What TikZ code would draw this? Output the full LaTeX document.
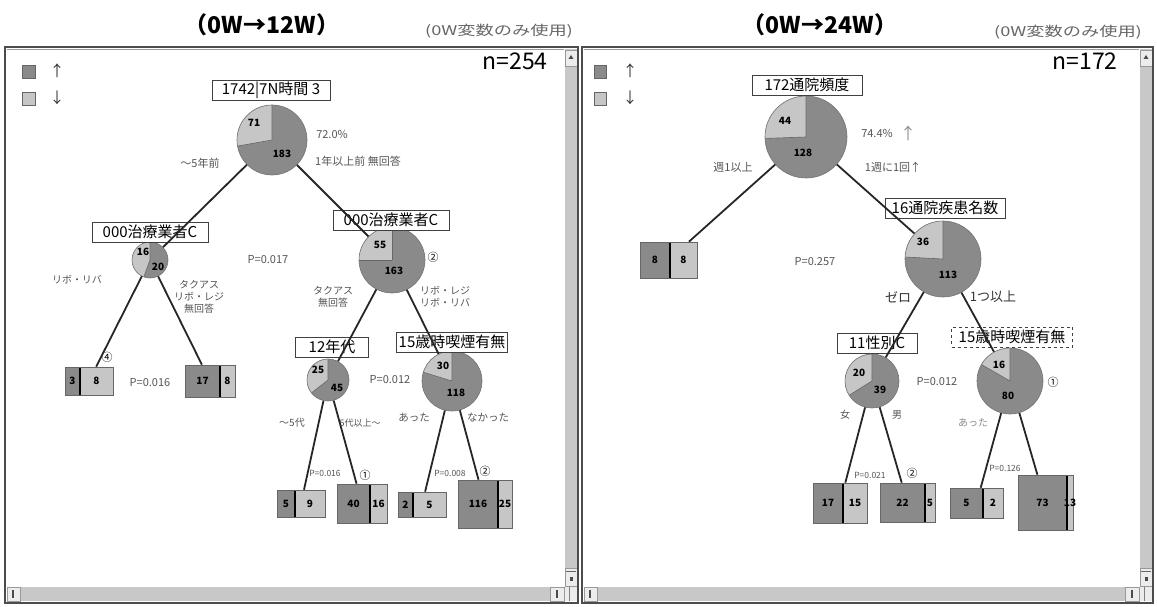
\documentclass[tikz,border=0pt]{standalone}
\usepackage{fontspec}
\setmainfont{Noto Sans CJK JP}
\newfontfamily\jp{Noto Sans CJK JP}
\definecolor{pdark}{RGB}{138,138,138}
\definecolor{plight}{RGB}{198,198,198}
\definecolor{tgray}{RGB}{85,85,85}
\definecolor{sbar}{RGB}{200,200,200}
\definecolor{sbtn}{RGB}{236,236,236}
\newcommand\mypie[5]{% name, x, y, r, light angle
  \fill[pdark] (#2,#3) circle[radius=#4];
  \fill[plight] (#2,#3) -- ++({270-#5}:#4) arc[start angle={270-#5}, end angle=270, radius=#4] -- cycle;
  \draw[black!60, line width=0.6pt] (#2,#3) -- ++({270-#5}:#4) (#2,#3) -- ++(270:#4);
  \node[pieo, minimum size={2*#4}] (#1) at (#2,#3) {};
}
\newcommand\myleaf[8]{% name, x1, y1, xm, x2, y2, dark, light
  \fill[pdark] (#2,#3) rectangle (#4,#6);
  \fill[plight] (#4,#3) rectangle (#5,#6);
  \draw[black, line width=1.4pt] (#4,#3) -- (#4,#6);
  \node[leafn, minimum width={#5-#2}, minimum height={#6-#3}] (#1) at ({(#2+#5)/2},{(#3+#6)/2}) {};
  \node[num] at ({(#2+#4)/2},{(#3+#6)/2}) {#7};
  \node[num] at ({(#4+#5)/2},{(#3+#6)/2}) {#8};
}
\begin{document}
\begin{tikzpicture}[x=1pt,y=-1pt,
  lbl/.style={draw=black!75, line width=0.8pt, fill=white, inner xsep=2pt, inner ysep=1.5pt, minimum height=20pt, font=\fontsize{15}{15}\selectfont},
  sm/.style={font=\fontsize{11}{11}\selectfont, text=tgray, inner sep=0},
  jsm/.style={font=\fontsize{10}{12}\selectfont, text=tgray, inner sep=0, align=center},
  tiny/.style={font=\fontsize{8.5}{8.5}\selectfont, text=tgray, inner sep=0},
  midtxt/.style={font=\fontsize{13}{13}\selectfont, text=black!80, inner sep=0},
  num/.style={font=\bfseries\fontsize{10}{10}\selectfont, inner sep=0},
  cmark/.style={font=\fontsize{11}{11}\selectfont, inner sep=0},
  conn/.style={line width=1.8pt, draw=black!85},
  pieo/.style={circle, draw=black!55, line width=0.6pt, inner sep=0},
  leafn/.style={draw=black!60, line width=0.6pt, inner sep=0},
  ttl/.style={font=\bfseries\fontsize{23}{23}\selectfont, inner sep=0},
  subttl/.style={font=\fontsize{13.5}{13.5}\selectfont, text=black!60, inner sep=0, xscale=1.35},
  nlab/.style={font=\fontsize{23}{23}\selectfont, inner sep=0},
  arr/.style={font=\fontsize{15}{15}\selectfont, inner sep=0, text=black!80},
  winframe/.style={draw=black!70, line width=1.6pt},
]
\useasboundingbox (0,0) rectangle (1157,607);
\fill[white] (0,0) rectangle (1157,607);

% ---------- titles ----------
\node[ttl] (t1) at (262,25) {（0W→12W）};
\node[subttl] (s1) at (499,31) {(0W変数のみ使用)};
\node[ttl] (t2) at (820,25) {（0W→24W）};
\node[subttl] (s2) at (1068,32) {(0W変数のみ使用)};

% ---------- window frames and scrollbars ----------
\foreach \xa/\xb in {5/578, 582/1153}{
  \fill[sbar] (\xb-13,49) rectangle (\xb-1,586);
  \fill[sbtn] (\xb-13,50) rectangle (\xb-1,66);
  \draw[black!40] (\xb-13,50) rectangle (\xb-1,66);
  \fill[black!70] (\xb-9.5,59) -- (\xb-4.5,59) -- (\xb-7,55) -- cycle;
  \fill[sbtn] (\xb-13,568) rectangle (\xb-1,586);
  \draw[black!40] (\xb-13,568) rectangle (\xb-1,586);
  \draw[black!60, line width=1pt] (\xb-12,571) -- (\xb-2,571);
  \fill[black!70] (\xb-8.5,577) rectangle (\xb-5.5,581);
  \fill[sbar] (\xa+2,587) rectangle (\xb-14,601);
  \fill[sbtn] (\xa+2,587) rectangle (\xa+15,601);
  \draw[black!40] (\xa+2,587) rectangle (\xa+15,601);
  \fill[black!70] (\xa+7,590) rectangle (\xa+9,598);
  \fill[sbtn] (\xb-28,587) rectangle (\xb-14,601);
  \draw[black!40] (\xb-28,587) rectangle (\xb-14,601);
  \fill[black!70] (\xb-22,590) rectangle (\xb-20,598);
  \fill[sbtn] (\xb-13,587) rectangle (\xb-1,601);
  \draw[black!50] (\xb-9,587) -- (\xb-9,601);
  \draw[winframe] (\xa,47) rectangle (\xb,603);
  \draw[black!40] (\xa+2,49) -- (\xb-14,49);
}

% ---------- legends ----------
\fill[pdark, draw=black!60] (22,65) rectangle (35,78);
\node[arr] (la1) at (57,71) {↑};
\fill[plight, draw=black!60] (22,92) rectangle (35,105);
\node[arr] (la2) at (57,98) {↓};
\fill[pdark, draw=black!60] (594,65) rectangle (606,78);
\node[arr] (lb1) at (630,71) {↑};
\fill[plight, draw=black!60] (594,92) rectangle (606,105);
\node[arr] (lb2) at (630,98) {↓};

\node[nlab] (n1) at (515,61) {n=254};
\node[nlab] (n2) at (1085,61) {n=172};

% ================= LEFT TREE =================
\mypie{A}{272}{140}{35}{100}
\node[lbl, minimum width=118pt] (Alab) at (271,90) {1742|7N時間 3};
\node[num] at (254,123) {71};
\node[num] at (282,154) {183};
\node[sm] (A1) at (332,134) {72.0\%};
\node[sm] (A2) at (358,161) {1年以上前 無回答};
\node[sm] (A3) at (200,163) {～5年前};

\mypie{B}{150}{260}{18}{160}
\node[lbl, minimum width=116pt] (Blab) at (150,232) {000治療業者C};
\node[num] at (143,252) {16};
\node[num] at (158,267) {20};
\node[jsm] (B1) at (77,280) {リボ・リバ};
\node[jsm] (B2) at (199,297) {タクアス\\リボ・レジ\\無回答};
\node[sm] (P1) at (268,260) {P=0.017};

\myleaf{L1}{65}{367}{80}{113}{395}{3}{8}
\myleaf{L2}{185}{365}{220}{235}{397}{17}{8}
\node[cmark] (m4) at (107,357) {④};
\node[sm] (P2) at (150,383) {P=0.016};

\mypie{C}{392}{260}{33}{90}
\node[lbl, minimum width=116pt] (Clab) at (391,220) {000治療業者C};
\node[num] at (380,245) {55};
\node[num] at (394,271) {163};
\node[cmark] (m2a) at (433,257) {②};
\node[jsm] (C1) at (333,297) {タクアス\\無回答};
\node[jsm] (C2) at (445,297) {リボ・レジ\\リボ・リバ};

\mypie{D}{328}{380}{21}{128}
\node[lbl, minimum width=73pt] (Dlab) at (332,347) {12年代};
\node[num] at (318,370) {25};
\node[num] at (337,388) {45};
\node[sm] (P3) at (390,380) {P=0.012};
\node[jsm] (D1) at (292,423) {～5代};
\node[jsm, font=\fontsize{9}{9}\selectfont] (D2) at (360,423) {5代以上～};
\myleaf{L3}{277}{490}{295}{325}{517}{5}{9}
\myleaf{L4}{337}{484}{370}{387}{523}{40}{16}
\node[cmark] (m1a) at (365,475) {①};
\node[tiny] (P4) at (325,473) {P=0.016};

\mypie{E}{452}{381}{30}{73}
\node[lbl, minimum width=107pt] (Elab) at (452,342) {15歳時喫煙有無};
\node[num] at (443,366) {30};
\node[num] at (456,393) {118};
\node[jsm, font=\fontsize{10.5}{10.5}\selectfont] (E1) at (414,418) {あった};
\node[jsm, font=\fontsize{10.5}{10.5}\selectfont] (E2) at (488,418) {なかった};
\myleaf{L5}{398}{492}{413}{446}{517}{2}{5}
\myleaf{L6}{458}{480}{498}{512}{528}{116}{25}
\node[cmark] (m2b) at (485,471) {②};
\node[tiny] (P5) at (450,473) {P=0.008};

% ================= RIGHT TREE =================
\mypie{F}{806}{137}{41}{92}
\node[lbl, minimum width=110pt] (Flab) at (807,85) {172通院頻度};
\node[num] at (785,121) {44};
\node[num] at (803,153) {128};
\node[sm] (F1) at (877,133) {74.4\%};
\node[arr, text=black!45, font=\fontsize{16}{16}\selectfont] (F1a) at (908,133) {↑};
\node[sm] (F2) at (733,167) {週1以上};
\node[sm] (F3) at (893,167) {1週に1回↑};

\myleaf{R1}{640}{242}{670}{697}{278}{8}{8}
\node[sm] (P6) at (815,262) {P=0.257};

\mypie{G}{943}{259}{38}{87}
\node[lbl, minimum width=120pt] (Glab) at (945,208) {16通院疾患名数};
\node[num] at (923,242) {36};
\node[num] at (948,275) {113};
\node[midtxt] (G1) at (898,297) {ゼロ};
\node[midtxt] (G2) at (993,297) {1つ以上};

\mypie{H}{872}{381}{27}{122}
\node[lbl, minimum width=80pt] (Hlab) at (877,343) {11性別C};
\node[num] at (859,373) {20};
\node[num] at (880,390) {39};
\node[sm] (P7) at (937,382) {P=0.012};
\node[jsm] (H1) at (845,415) {女};
\node[jsm] (H2) at (897,415) {男};
\myleaf{R2}{813}{483}{843}{867}{523}{17}{15}
\myleaf{R3}{880}{483}{925}{935}{522}{22}{5}
\node[cmark] (m2c) at (912,473) {②};
\node[tiny] (P8) at (870,475) {P=0.021};

\mypie{K}{1010}{381}{33}{60}
\node[lbl, dashed, minimum width=121pt] (Klab) at (1012,337) {15歳時喫煙有無};
\node[num] at (999,365) {16};
\node[num] at (1008,396) {80};
\node[cmark] (m1b) at (1053,382) {①};
\node[jsm, text=black!45] (K1) at (973,423) {あった};
\myleaf{R4}{950}{488}{983}{1003}{518}{5}{2}
\myleaf{R5}{1018}{475}{1067}{1073}{530}{73}{13}
\node[tiny] (P9) at (1005,468) {P=0.126};

% ---------- connectors ----------
\draw[conn] (A) -- (B);
\draw[conn] (A) -- (C);
\draw[conn] (B) -- (L1);
\draw[conn] (B) -- (L2);
\draw[conn] (C) -- (D);
\draw[conn] (C) -- (E);
\draw[conn] (D) -- (L3);
\draw[conn] (D) -- (L4);
\draw[conn] (E) -- (L5);
\draw[conn] (E) -- (L6);
\draw[conn] (F) -- (R1);
\draw[conn] (F) -- (G);
\draw[conn] (G) -- (H);
\draw[conn] (G) -- (K);
\draw[conn] (H) -- (R2);
\draw[conn] (H) -- (R3);
\draw[conn] (K) -- (R4);
\draw[conn] (K) -- (R5);
\end{tikzpicture}
\end{document}
